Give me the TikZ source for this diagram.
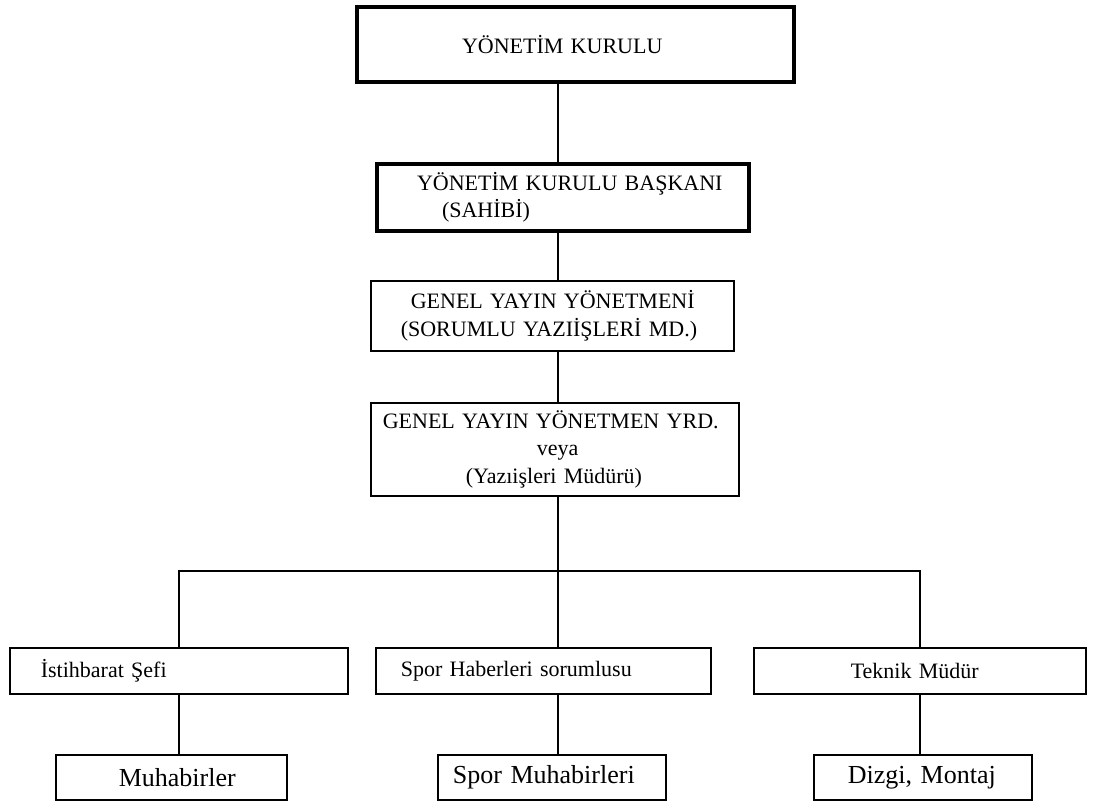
\documentclass[tikz,border=0pt]{standalone}
\usepackage{fontspec}
\setmainfont{Liberation Serif}
\usetikzlibrary{positioning,calc}

\begin{document}
\begin{tikzpicture}[
  x=0.75pt, y=-0.75pt,
  % box styling
  unit/.style={
    draw=black,
    line width=1.2pt,
    anchor=north west,
    inner xsep=0pt,
    inner ysep=0pt,
    align=left,
    font=\fontsize{16.5}{20.5}\selectfont
  },
  headunit/.style={unit, line width=3pt},
  lowunit/.style={unit, font=\fontsize{19.5}{23}\selectfont},
  link/.style={line width=1.3pt, line cap=rect}
]
\useasboundingbox (0,0) rectangle (1093,806);

% Board and chairman
\node[headunit, text width=327.75pt, minimum height=56.25pt] (board) at (355,5)
  {\hspace*{78.75pt}YÖNETİM KURULU};
\node[headunit, text width=279pt, minimum height=50.25pt] (chair) at (375,162)
  {\hspace*{30pt}YÖNETİM KURULU BAŞKANI\\\hspace*{48.75pt}(SAHİBİ)};

% Editors
\node[unit, text width=272.25pt, minimum height=52.5pt] (editor) at (370,280)
  {\hspace*{30pt}GENEL YAYIN YÖNETMENİ\\\hspace*{22.5pt}(SORUMLU YAZIİŞLERİ MD.)};
\node[unit, text width=276pt, minimum height=69.75pt] (deputy) at (370,402)
  {\hspace*{9pt}GENEL YAYIN YÖNETMEN YRD.\\\hspace*{124.5pt}veya\\\hspace*{71.25pt}(Yazıişleri Müdürü)};

% Department heads
\node[unit, text width=253.5pt, minimum height=34.5pt] (intel) at (9,647)
  {\hspace*{23.25pt}İstihbarat Şefi};
\node[unit, text width=251.25pt, minimum height=34.5pt] (sport) at (375,647)
  {\hspace*{18.75pt}Spor Haberleri sorumlusu};
\node[unit, text width=249pt, minimum height=34.5pt] (tech) at (753,647)
  {\hspace*{72.75pt}Teknik Müdür};

% Staff
\node[lowunit, text width=173.25pt, minimum height=33.75pt] (reporters) at (55,754)
  {\hspace*{47.25pt}Muhabirler};
\node[lowunit, text width=171pt, minimum height=33.75pt] (sportrep) at (437,754)
  {\hspace*{11.25pt}Spor Muhabirleri};
\node[lowunit, text width=163.5pt, minimum height=33.75pt] (typeset) at (813,754)
  {\hspace*{25.5pt}Dizgi, Montaj};

% Connectors
\coordinate (spine) at (558,571);
\draw[link] (board.south -| spine) -- (chair.north -| spine);
\draw[link] (chair.south -| spine) -- (editor.north -| spine);
\draw[link] (editor.south -| spine) -- (deputy.north -| spine);
\draw[link] (deputy.south -| spine) -- (sport.north -| spine);
\draw[link] (intel.north) |- (spine) -| (tech.north);

\draw[link] (intel.south) -- (reporters.north -| intel.south);
\draw[link] (sport.south -| spine) -- (sportrep.north -| spine);
\draw[link] (tech.south) -- (typeset.north -| tech.south);

\end{tikzpicture}
\end{document}
